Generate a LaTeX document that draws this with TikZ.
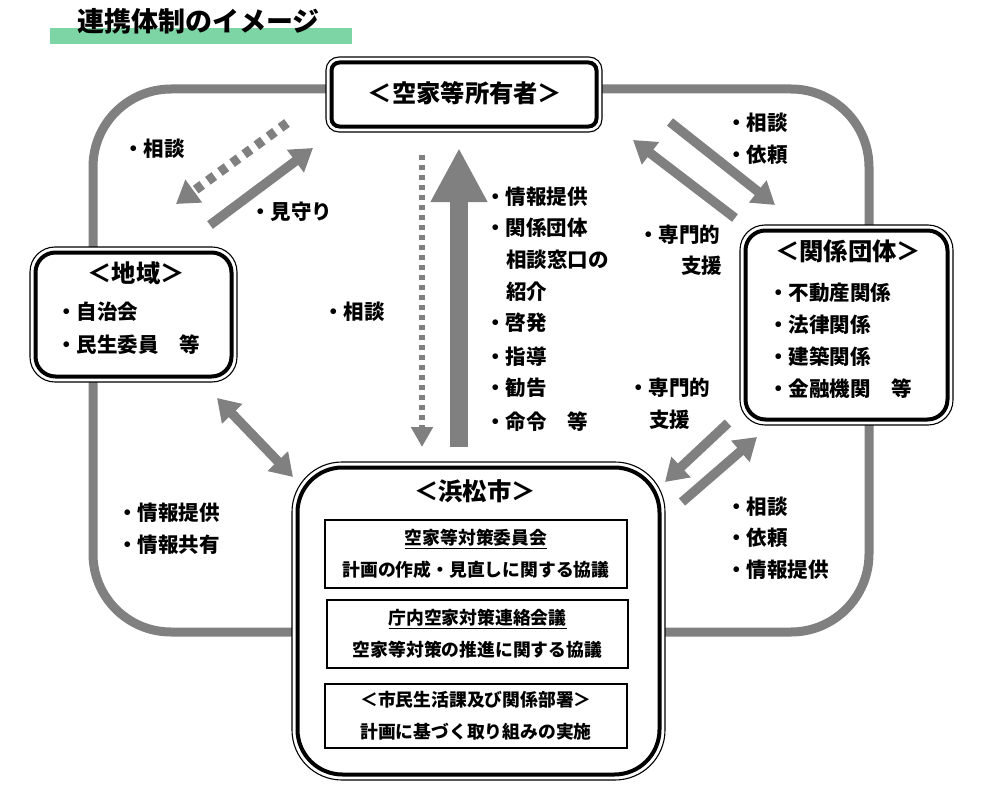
\documentclass[tikz,border=0pt]{standalone}
\usepackage{fontspec}
\setmainfont{Noto Sans CJK JP}
\usetikzlibrary{arrows.meta}
\definecolor{lg}{RGB}{128,128,128}
\definecolor{tg}{RGB}{125,213,165}
\begin{document}
\begin{tikzpicture}[x=1pt,y=-1pt,
  lbl/.style={anchor=west,inner sep=0pt,font=\fontsize{20.5}{20.5}\selectfont\bfseries},
  ttl/.style={inner sep=0pt,font=\fontsize{24.3}{24.3}\selectfont\bfseries},
  outerb/.style={draw=black,line width=1.1pt,fill=white,rounded corners=#1,inner sep=0pt,outer sep=0pt},
  innerb/.style={draw=black,line width=4pt,fill=white,rounded corners=#1,inner sep=0pt,outer sep=0pt},
  subbox/.style={draw=black,line width=2pt,fill=white,inner sep=0pt,outer sep=0pt,align=center,font=\fontsize{17.8}{32}\selectfont\bfseries},
  garrow/.style={draw=lg,line width=9.5pt,-{Triangle[width=27pt,length=22pt]}},
  gdots/.style={garrow,dash pattern=on 8pt off 7pt},
  vdots/.style={draw=lg,line width=6pt,dash pattern=on 5pt off 5pt,-{Triangle[width=21pt,length=20pt]}},
  bigarrow/.style={draw=lg,line width=18pt,-{Triangle[width=53pt,length=54pt]}},
  darrow/.style={draw=lg,line width=9.5pt,{Triangle[width=27pt,length=22pt]}-{Triangle[width=27pt,length=22pt]}},
  loopline/.style={draw=lg,line width=9pt,rounded corners=78pt}
]
\useasboundingbox (0,0) rectangle (994,800);

% title
\fill[tg] (50,28) rectangle (352,44);
\node[anchor=west,inner sep=0pt,font=\fontsize{27}{27}\selectfont\bfseries] (title) at (77,21) {連携体制のイメージ};

% loop
\draw[loopline] (93,89) rectangle (869,632);

% arrows
\coordinate (d1s) at (287,123); \coordinate (d1e) at (176,204);
\coordinate (a1s) at (210,225); \coordinate (a1e) at (313,148);
\coordinate (vds) at (422,155); \coordinate (vde) at (422,447);
\coordinate (bgs) at (459,447); \coordinate (bge) at (459,148);
\coordinate (aAs) at (670,122); \coordinate (aAe) at (775,205);
\coordinate (aBs) at (735,218); \coordinate (aBe) at (633,140);
\coordinate (aCs) at (728,423); \coordinate (aCe) at (665,482);
\coordinate (aDs) at (682,502); \coordinate (aDe) at (757,437);
\coordinate (aEs) at (217,398); \coordinate (aEe) at (293,477);
\draw[gdots] (d1s) -- (d1e);
\draw[garrow] (a1s) -- (a1e);
\draw[vdots] (vds) -- (vde);
\draw[bigarrow] (bgs) -- (bge);
\draw[garrow] (aAs) -- (aAe);
\draw[garrow] (aBs) -- (aBe);
\draw[garrow] (aCs) -- (aCe);
\draw[garrow] (aDs) -- (aDe);
\draw[darrow] (aEs) -- (aEe);

% owner box
\node[outerb=13pt,minimum width=276pt,minimum height=75pt] (ownO) at (464,94.5) {};
\node[innerb=8pt,minimum width=265pt,minimum height=64pt] (own) at (464,94.5) {};
\node[ttl] (ownT) at (465,93) {＜空家等所有者＞};

% chiiki box
\node[outerb=25pt,minimum width=207pt,minimum height=135pt] (chiO) at (133.5,314.5) {};
\node[innerb=20pt,minimum width=196pt,minimum height=124pt] (chi) at (133.5,314.5) {};
\node[ttl] (chiT) at (136,273) {＜地域＞};
\node[lbl] (chi1) at (56,312) {・自治会};
\node[lbl] (chi2) at (56,345) {・民生委員　等};

% kankei box
\node[outerb=25pt,minimum width=213pt,minimum height=200pt] (kanO) at (846.5,325) {};
\node[innerb=20pt,minimum width=202pt,minimum height=189pt] (kan) at (846.5,325) {};
\node[ttl] (kanT) at (848,251) {＜関係団体＞};
\node[lbl] (kan1) at (768,293) {・不動産関係};
\node[lbl] (kan2) at (768,325) {・法律関係};
\node[lbl] (kan3) at (768,357) {・建築関係};
\node[lbl] (kan4) at (768,389) {・金融機関　等};

% hamamatsu box
\node[outerb=50pt,minimum width=373pt,minimum height=318pt] (hamO) at (478.5,621) {};
\node[innerb=45pt,minimum width=362pt,minimum height=307pt] (ham) at (478.5,621) {};
\node[ttl] (hamT) at (475,491) {＜浜松市＞};
\node[subbox,minimum width=302pt,minimum height=68pt] (sb1) at (476,554) {\underline{空家等対策委員会}\\計画の作成・見直しに関する協議};
\node[subbox,minimum width=301pt,minimum height=68pt] (sb2) at (477.5,634) {\underline{庁内空家対策連絡会議}\\空家等対策の推進に関する協議};
\node[subbox,minimum width=302pt,minimum height=64pt] (sb3) at (476,716) {＜市民生活課及び関係部署＞\\計画に基づく取り組みの実施};

% labels
\node[lbl] (l1) at (123,149) {・相談};
\node[lbl] (l2) at (250,212) {・見守り};
\node[lbl] (l3) at (323,312) {・相談};
\node[lbl] (m1) at (485,197) {・情報提供};
\node[lbl] (m2) at (485,228) {・関係団体};
\node[lbl] (m3) at (506,260) {相談窓口の};
\node[lbl] (m4) at (506,292) {紹介};
\node[lbl] (m5) at (485,323) {・啓発};
\node[lbl] (m6) at (485,357) {・指導};
\node[lbl] (m7) at (485,388) {・勧告};
\node[lbl] (m8) at (485,422) {・命令　等};
\node[lbl] (r1) at (726,123) {・相談};
\node[lbl] (r2) at (726,155) {・依頼};
\node[lbl] (r3) at (638,235) {・専門的};
\node[lbl] (r4) at (681,266) {支援};
\node[lbl] (r5) at (628,388) {・専門的};
\node[lbl] (r6) at (649,420) {支援};
\node[lbl] (r7) at (726,507) {・相談};
\node[lbl] (r8) at (726,538) {・依頼};
\node[lbl] (r9) at (726,570) {・情報提供};
\node[lbl] (b1) at (117,513) {・情報提供};
\node[lbl] (b2) at (117,545) {・情報共有};
\end{tikzpicture}
\end{document}
